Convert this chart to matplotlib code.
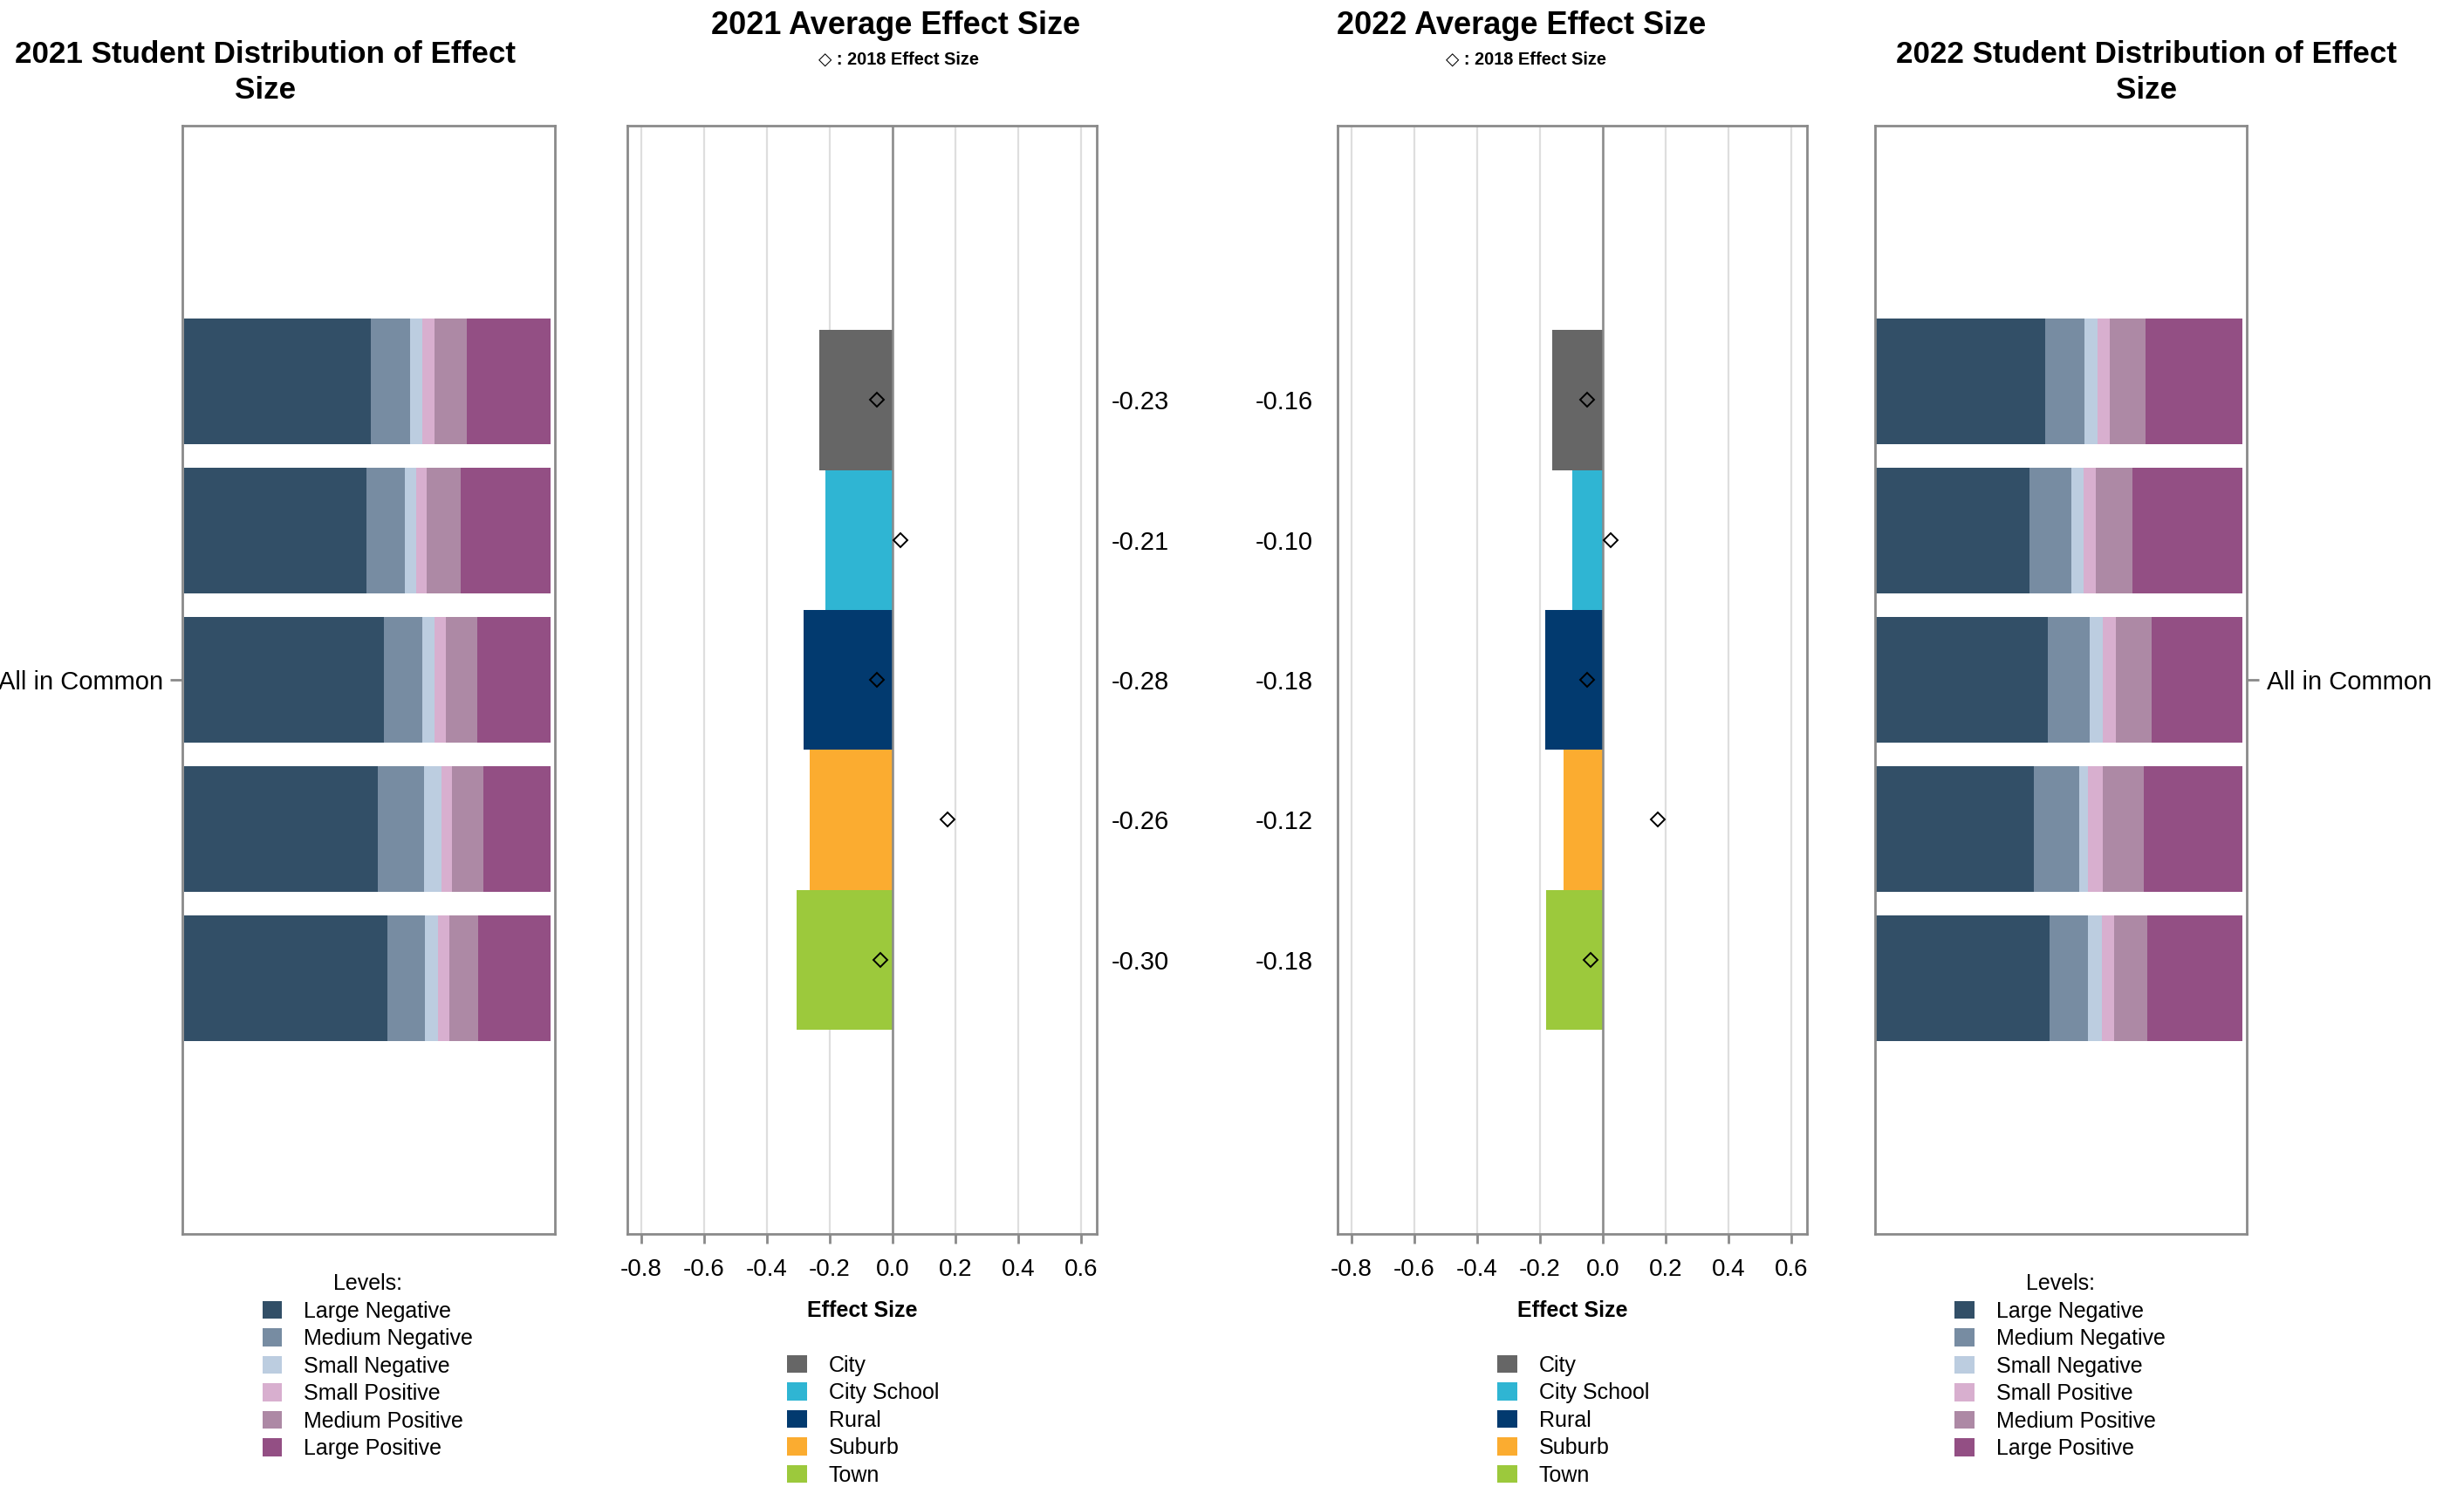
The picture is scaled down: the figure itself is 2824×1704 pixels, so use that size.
import matplotlib
matplotlib.use("Agg")
import matplotlib.pyplot as plt
from matplotlib.patches import Patch
import numpy as np

plt.rcParams['font.family'] = ['Liberation Sans', 'DejaVu Sans']

# ---------------- data ----------------
categories = ['City', 'City School', 'Rural', 'Suburb', 'Town']
cat_colors = ['#666666', '#2fb5d3', '#023a6f', '#fbac30', '#9cc93c']

levels = ['Large Negative', 'Medium Negative', 'Small Negative',
          'Small Positive', 'Medium Positive', 'Large Positive']
level_colors = ['#324f67', '#778ca2', '#bccde0', '#d8afcf', '#ad89a5', '#934f84']

dist_2021 = [
    [51.1, 10.7, 3.3, 3.2, 9.0, 22.7],
    [49.9, 10.5, 3.1, 2.8, 9.3, 24.4],
    [54.5, 10.6, 3.2, 3.3, 8.4, 20.0],
    [53.0, 12.6, 4.6, 2.9, 8.6, 18.3],
    [55.5, 10.3, 3.6, 3.1, 7.9, 19.6],
]
dist_2022 = [
    [46.1, 10.8, 3.6, 3.3, 9.6, 26.6],
    [41.9, 11.3, 3.3, 3.3, 10.0, 30.2],
    [46.9, 11.3, 3.7, 3.6, 9.7, 24.8],
    [42.9, 12.5, 2.3, 4.2, 11.0, 27.1],
    [47.3, 10.4, 3.8, 3.4, 9.1, 26.0],
]
avg_2021 = [-0.234, -0.214, -0.284, -0.264, -0.304]
avg_2022 = [-0.162, -0.098, -0.182, -0.124, -0.181]
es_2018 = [-0.05, 0.025, -0.05, 0.175, -0.04]
xticks_avg = [-0.8, -0.6, -0.4, -0.2, 0.0, 0.2, 0.4, 0.6]
group_label = 'All in Common'

# ---------------- figure ----------------
W, H = 1568.0, 946.0
fig = plt.figure(figsize=(14.12, 8.52), dpi=200)

def pos(x0, x1, y0=80, y1=785):
    return [x0 / W, 1 - y1 / H, (x1 - x0) / W, (y1 - y0) / H]

spine_c = '#8a8a8a'

ax_l = fig.add_axes(pos(116, 353))
ax_m1 = fig.add_axes(pos(399, 698))
ax_m2 = fig.add_axes(pos(851, 1150))
ax_r = fig.add_axes(pos(1193, 1430))

ypos = np.arange(len(categories))


def stacked(ax, data, side):
    data = np.array(data)
    left = np.zeros(len(data))
    for j, lev in enumerate(levels):
        ax.barh(ypos, data[:, j], left=left, height=0.84,
                color=level_colors[j], edgecolor='none', label=lev)
        left += data[:, j]
    ax.set_xlim(-0.4, 101.2)
    ax.set_ylim(len(categories) - 1 + 1.71, -1.71)
    ax.set_xticks([])
    ax.set_yticks([(len(categories) - 1) / 2])
    ax.set_yticklabels([group_label], fontsize=10.5)
    if side == 'right':
        ax.yaxis.tick_right()
    ax.tick_params(axis='y', length=5, width=1, color=spine_c, pad=3)
    for s in ax.spines.values():
        s.set_color(spine_c)
        s.set_linewidth(1.0)


def avg_panel(ax, vals, side):
    ax.set_axisbelow(True)
    ax.xaxis.grid(True, color='#dedede', linewidth=0.8)
    ax.barh(ypos, vals, height=1.0, color=cat_colors, edgecolor='none')
    ax.axvline(0, color='#8a8a8a', linewidth=0.9, zorder=2.5)
    ax.plot(es_2018, ypos, linestyle='none', marker='D', markersize=4.2,
            markerfacecolor='none', markeredgecolor='black', markeredgewidth=0.7,
            zorder=3)
    ax.set_xlim(-0.845, 0.65)
    ax.set_ylim(len(categories) - 1 + 1.96, -1.96)
    ax.set_xticks(xticks_avg)
    ax.set_xticklabels([f'{t:.1f}' for t in xticks_avg], fontsize=10)
    ax.tick_params(axis='x', length=4, width=1, color=spine_c, pad=6)
    ax.set_yticks(ypos)
    ax.set_yticklabels([f'{v:.2f}' for v in vals], fontsize=10.5)
    if side == 'right':
        ax.yaxis.tick_right()
        ax.tick_params(axis='y', length=0, pad=6)
    else:
        ax.tick_params(axis='y', length=0, pad=10)
    ax.set_xlabel('Effect Size', fontsize=9, fontweight='bold', labelpad=8)
    for s in ax.spines.values():
        s.set_color(spine_c)
        s.set_linewidth(1.0)


stacked(ax_l, dist_2021, 'left')
stacked(ax_r, dist_2022, 'right')
avg_panel(ax_m1, avg_2021, 'right')
avg_panel(ax_m2, avg_2022, 'left')

# ---------------- titles ----------------
fig.text(169 / W, 1 - 46 / H, '2021 Student Distribution of Effect\nSize',
         ha='center', va='center', fontsize=12.6, fontweight='bold', linespacing=1.33)
fig.text(1366 / W, 1 - 46 / H, '2022 Student Distribution of Effect\nSize',
         ha='center', va='center', fontsize=12.6, fontweight='bold', linespacing=1.33)
fig.text(570 / W, 1 - 16.5 / H, '2021 Average Effect Size',
         ha='center', va='center', fontsize=13, fontweight='bold')
fig.text(968 / W, 1 - 16.5 / H, '2022 Average Effect Size',
         ha='center', va='center', fontsize=13, fontweight='bold')
fig.text(572 / W, 1 - 38 / H, '\u25c7 : 2018 Effect Size',
         ha='center', va='center', fontsize=7.2, fontweight='bold')
fig.text(971 / W, 1 - 38 / H, '\u25c7 : 2018 Effect Size',
         ha='center', va='center', fontsize=7.2, fontweight='bold')

# ---------------- legends ----------------
lev_handles = [Patch(facecolor=c, edgecolor='none') for c in level_colors]
cat_handles = [Patch(facecolor=c, edgecolor='none') for c in cat_colors]

leg_kw = dict(loc='upper left', frameon=False, fontsize=9.0, handlelength=0.9,
              handleheight=0.9, handletextpad=1.0, labelspacing=0.3,
              borderpad=0, borderaxespad=0)

fig.legend(lev_handles, levels, bbox_to_anchor=(167 / W, 1 - 810 / H),
           title='Levels:', title_fontsize=9.0, **leg_kw)
fig.legend(lev_handles, levels, bbox_to_anchor=(1244 / W, 1 - 810 / H),
           title='Levels:', title_fontsize=9.0, **leg_kw)
fig.legend(cat_handles, categories, bbox_to_anchor=(501 / W, 1 - 862 / H), **leg_kw)
fig.legend(cat_handles, categories, bbox_to_anchor=(953 / W, 1 - 862 / H), **leg_kw)

fig.savefig('out.png', dpi=200, facecolor='white')
